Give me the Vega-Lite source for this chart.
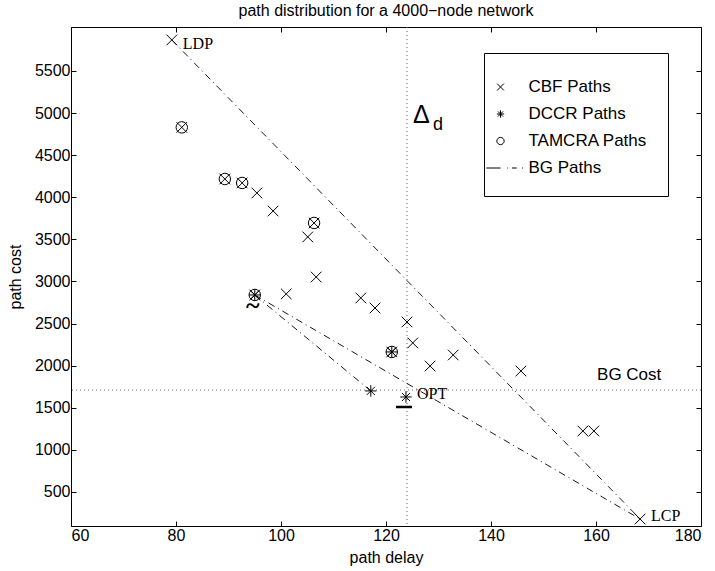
{
  "$schema": "https://vega.github.io/schema/vega-lite/v6.json",
  "width": 630,
  "height": 499,
  "autosize": {"type": "none"},
  "padding": {"left": 71, "top": 27, "right": 14, "bottom": 45},
  "background": "white",
  "title": {"text": "path distribution for a 4000−node network", "fontSize": 16, "font": "Liberation Sans", "fontWeight": "normal", "anchor": "middle", "offset": -5, "baseline": "alphabetic", "color": "black"},
  "config": {
    "title": {"color": "black"},
    "view": {"stroke": "black", "strokeWidth": 1},
    "axis": {"domain": false, "grid": false, "tickColor": "black", "tickSize": -5, "labelFont": "Liberation Sans", "labelFontSize": 16, "labelColor": "black", "titleFont": "Liberation Sans", "titleFontSize": 16, "titleFontWeight": "normal", "titleColor": "black", "labelPadding": 6},
    "legend": {"orient": "none", "legendX": 413, "legendY": 26, "strokeColor": "black", "fillColor": "white", "padding": 20, "symbolSize": 729, "symbolOffset": -17.5, "labelOffset": 14, "labelFont": "Liberation Sans", "labelFontSize": 17, "labelColor": "black", "rowPadding": 5, "symbolStrokeWidth": 1, "symbolStrokeColor": "black", "symbolFillColor": "transparent", "cornerRadius": 0}
  },
  "datasets": {
    "points": [
      {"delay": 79.2, "cost": 5868, "type": "CBF Paths"},
      {"delay": 81.1, "cost": 4830, "type": "CBF Paths"},
      {"delay": 89.3, "cost": 4217, "type": "CBF Paths"},
      {"delay": 92.6, "cost": 4170, "type": "CBF Paths"},
      {"delay": 95.4, "cost": 4051, "type": "CBF Paths"},
      {"delay": 98.5, "cost": 3837, "type": "CBF Paths"},
      {"delay": 106.3, "cost": 3695, "type": "CBF Paths"},
      {"delay": 105.1, "cost": 3529, "type": "CBF Paths"},
      {"delay": 106.7, "cost": 3053, "type": "CBF Paths"},
      {"delay": 101.0, "cost": 2852, "type": "CBF Paths"},
      {"delay": 95.0, "cost": 2840, "type": "CBF Paths"},
      {"delay": 115.2, "cost": 2804, "type": "CBF Paths"},
      {"delay": 117.9, "cost": 2685, "type": "CBF Paths"},
      {"delay": 124.0, "cost": 2519, "type": "CBF Paths"},
      {"delay": 125.1, "cost": 2270, "type": "CBF Paths"},
      {"delay": 121.1, "cost": 2163, "type": "CBF Paths"},
      {"delay": 132.8, "cost": 2127, "type": "CBF Paths"},
      {"delay": 128.4, "cost": 1996, "type": "CBF Paths"},
      {"delay": 145.7, "cost": 1937, "type": "CBF Paths"},
      {"delay": 157.5, "cost": 1224, "type": "CBF Paths"},
      {"delay": 159.6, "cost": 1224, "type": "CBF Paths"},
      {"delay": 168.4, "cost": 179, "type": "CBF Paths"},
      {"delay": 81.1, "cost": 4830, "type": "TAMCRA Paths"},
      {"delay": 89.3, "cost": 4217, "type": "TAMCRA Paths"},
      {"delay": 92.6, "cost": 4170, "type": "TAMCRA Paths"},
      {"delay": 106.3, "cost": 3695, "type": "TAMCRA Paths"},
      {"delay": 95.0, "cost": 2840, "type": "TAMCRA Paths"},
      {"delay": 121.1, "cost": 2163, "type": "TAMCRA Paths"},
      {"delay": 95.0, "cost": 2840, "type": "DCCR Paths"},
      {"delay": 121.1, "cost": 2163, "type": "DCCR Paths"},
      {"delay": 117.1, "cost": 1700, "type": "DCCR Paths"},
      {"delay": 123.8, "cost": 1628, "type": "DCCR Paths"}
    ],
    "bg": [
      {"path": "A", "order": 1, "delay": 79.2, "cost": 5868},
      {"path": "A", "order": 2, "delay": 168.4, "cost": 179},
      {"path": "B", "order": 1, "delay": 95.0, "cost": 2840},
      {"path": "B", "order": 2, "delay": 168.4, "cost": 179},
      {"path": "C", "order": 1, "delay": 95.0, "cost": 2840},
      {"path": "C", "order": 2, "delay": 117.1, "cost": 1700}
    ]
  },
  "layer": [
    {
      "data": {"values": [{"delay": 124}]},
      "mark": {"type": "rule", "strokeDash": [1, 3], "color": "#666", "strokeWidth": 1},
      "encoding": {"x": {"field": "delay", "type": "quantitative", "scale": {"domain": [60, 180], "nice": false, "zero": false}, "axis": null}}
    },
    {
      "data": {"values": [{"cost": 1711}]},
      "mark": {"type": "rule", "strokeDash": [1, 3], "color": "#666", "strokeWidth": 1},
      "encoding": {"y": {"field": "cost", "type": "quantitative", "scale": {"domain": [96, 6022], "nice": false, "zero": false}, "axis": null}}
    },
    {
      "data": {"name": "bg"},
      "mark": {"type": "line", "color": "black", "strokeWidth": 0.9, "strokeDash": [7, 4, 1, 4]},
      "encoding": {
        "x": {"field": "delay", "type": "quantitative", "scale": {"domain": [60, 180], "nice": false, "zero": false}, "axis": {"orient": "top", "labels": false, "title": null, "values": [60, 80, 100, 120, 140, 160, 180]}},
        "y": {"field": "cost", "type": "quantitative", "scale": {"domain": [96, 6022], "nice": false, "zero": false}, "axis": {"orient": "right", "labels": false, "title": null, "values": [500, 1000, 1500, 2000, 2500, 3000, 3500, 4000, 4500, 5000, 5500]}},
        "detail": {"field": "path"},
        "order": {"field": "order"}
      }
    },
    {
      "data": {"name": "points"},
      "mark": {"type": "point", "filled": false, "stroke": "black", "strokeWidth": 1, "size": 1800, "opacity": 1},
      "encoding": {
        "x": {"field": "delay", "type": "quantitative", "scale": {"domain": [60, 180], "nice": false, "zero": false}, "axis": {"orient": "bottom", "title": "path delay", "titlePadding": 6, "values": [60, 80, 100, 120, 140, 160, 180]}},
        "y": {"field": "cost", "type": "quantitative", "scale": {"domain": [96, 6022], "nice": false, "zero": false}, "axis": {"orient": "left", "title": "path cost", "titlePadding": 11, "format": "d", "values": [500, 1000, 1500, 2000, 2500, 3000, 3500, 4000, 4500, 5000, 5500]}},
        "shape": {
          "field": "type", "type": "nominal",
          "scale": {
            "domain": ["CBF Paths", "DCCR Paths", "TAMCRA Paths", "BG Paths"],
            "range": [
              "M-0.25,-0.25L0.25,0.25M0.25,-0.25L-0.25,0.25",
              "M-0.19,-0.19L0.19,0.19M0.19,-0.19L-0.19,0.19M0,-0.27L0,0.27M-0.27,0L0.27,0",
              "M0.27,0A0.27,0.27 0 1,1 -0.27,0A0.27,0.27 0 1,1 0.27,0Z",
              "M-1.05,0L0,0M0.5,0L0.56,0M0.85,0L1.2,0M1.6,0L1.66,0"
            ]
          },
          "legend": {"title": null}
        }
      }
    },
    {
      "data": {"values": [{"delay": 123.8, "cost": 1628}]},
      "mark": {"type": "point", "shape": "M-1,0L1,0", "size": 256, "filled": false, "stroke": "black", "strokeWidth": 2.5, "opacity": 1, "yOffset": 10, "xOffset": -2},
      "encoding": {
        "x": {"field": "delay", "type": "quantitative", "scale": {"domain": [60, 180], "nice": false, "zero": false}, "axis": null},
        "y": {"field": "cost", "type": "quantitative", "scale": {"domain": [96, 6022], "nice": false, "zero": false}, "axis": null}
      }
    },
    {
      "data": {"values": [{"delay": 79.2, "cost": 5868, "label": "LDP"}]},
      "mark": {"type": "text", "font": "Liberation Serif", "fontSize": 16, "align": "left", "baseline": "middle", "dx": 11, "dy": 4, "color": "black"},
      "encoding": {
        "x": {"field": "delay", "type": "quantitative", "scale": {"domain": [60, 180], "nice": false, "zero": false}, "axis": null},
        "y": {"field": "cost", "type": "quantitative", "scale": {"domain": [96, 6022], "nice": false, "zero": false}, "axis": null},
        "text": {"field": "label"}
      }
    },
    {
      "data": {"values": [{"delay": 123.8, "cost": 1628, "label": "OPT"}, {"delay": 168.4, "cost": 179, "label": "LCP"}]},
      "mark": {"type": "text", "font": "Liberation Serif", "fontSize": 16, "align": "left", "baseline": "middle", "dx": 11, "dy": -3, "color": "black"},
      "encoding": {
        "x": {"field": "delay", "type": "quantitative", "scale": {"domain": [60, 180], "nice": false, "zero": false}, "axis": null},
        "y": {"field": "cost", "type": "quantitative", "scale": {"domain": [96, 6022], "nice": false, "zero": false}, "axis": null},
        "text": {"field": "label"}
      }
    },
    {
      "data": {"values": [{"delay": 124, "cost": 4882, "label": "Δ"}]},
      "mark": {"type": "text", "font": "Liberation Sans", "fontSize": 25, "align": "left", "baseline": "alphabetic", "dx": 6, "color": "black"},
      "encoding": {
        "x": {"field": "delay", "type": "quantitative", "scale": {"domain": [60, 180], "nice": false, "zero": false}, "axis": null},
        "y": {"field": "cost", "type": "quantitative", "scale": {"domain": [96, 6022], "nice": false, "zero": false}, "axis": null},
        "text": {"field": "label"}
      }
    },
    {
      "data": {"values": [{"delay": 124, "cost": 4799, "label": "d"}]},
      "mark": {"type": "text", "font": "Liberation Sans", "fontSize": 18, "align": "left", "baseline": "alphabetic", "dx": 26, "color": "black"},
      "encoding": {
        "x": {"field": "delay", "type": "quantitative", "scale": {"domain": [60, 180], "nice": false, "zero": false}, "axis": null},
        "y": {"field": "cost", "type": "quantitative", "scale": {"domain": [96, 6022], "nice": false, "zero": false}, "axis": null},
        "text": {"field": "label"}
      }
    },
    {
      "data": {"values": [{"delay": 160.2, "cost": 1711, "label": "BG Cost"}]},
      "mark": {"type": "text", "font": "Liberation Sans", "fontSize": 17, "align": "left", "baseline": "alphabetic", "dy": -10, "color": "black"},
      "encoding": {
        "x": {"field": "delay", "type": "quantitative", "scale": {"domain": [60, 180], "nice": false, "zero": false}, "axis": null},
        "y": {"field": "cost", "type": "quantitative", "scale": {"domain": [96, 6022], "nice": false, "zero": false}, "axis": null},
        "text": {"field": "label"}
      }
    },
    {
      "data": {"values": [{"delay": 95.0, "cost": 2840, "label": "~"}]},
      "mark": {"type": "text", "font": "Liberation Serif", "fontSize": 26, "fontWeight": "bold", "align": "center", "baseline": "middle", "dx": -2, "dy": 11, "color": "black"},
      "encoding": {
        "x": {"field": "delay", "type": "quantitative", "scale": {"domain": [60, 180], "nice": false, "zero": false}, "axis": null},
        "y": {"field": "cost", "type": "quantitative", "scale": {"domain": [96, 6022], "nice": false, "zero": false}, "axis": null},
        "text": {"field": "label"}
      }
    }
  ],
  "resolve": {"axis": {"x": "independent", "y": "independent"}}
}
